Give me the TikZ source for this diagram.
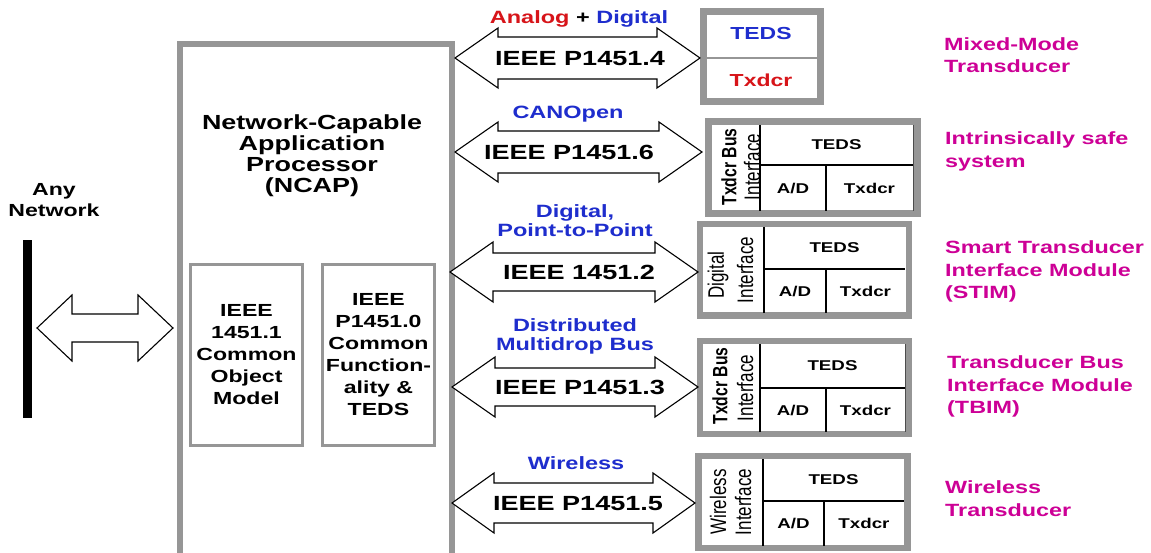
\documentclass[tikz,border=0pt]{standalone}
\usepackage{graphicx}
\usepackage{fontspec}
\setmainfont{Liberation Sans}
\newfontfamily\wf{Liberation Sans}[FakeStretch=1.32]
\usetikzlibrary{calc}
\definecolor{frm}{RGB}{150,150,150}
\definecolor{lblue}{RGB}{30,45,205}
\definecolor{lred}{RGB}{215,20,25}
\definecolor{lmag}{RGB}{205,0,150}
\newcommand\fsz[2]{\fontsize{#1}{#2}\selectfont}
% double block arrow between two named tip coordinates
\newcommand\dblarrow[5]{%
  \draw[arrowshape] let \p1=(#1), \p2=(#2) in
    (\p1) -- (\x1+#3pt,\y1+#4pt) -- (\x1+#3pt,\y1+#5pt) -- (\x2-#3pt,\y2+#5pt)
    -- (\x2-#3pt,\y2+#4pt) -- (\p2) -- (\x2-#3pt,\y2-#4pt) -- (\x2-#3pt,\y2-#5pt)
    -- (\x1+#3pt,\y1-#5pt) -- (\x1+#3pt,\y1-#4pt) -- cycle;}
\begin{document}
\begin{tikzpicture}[x=1pt,y=-1pt,
  grayframe/.style={draw=frm, inner sep=0pt, fill=white},
  divline/.style={draw=black, line width=1.2},
  arrowshape/.style={draw=black, fill=white, line width=1.1, line join=miter},
  bigtxt/.style={font=\wf\bfseries\fsz{20.4}{21}, inner sep=0pt, align=center},
  midtxt/.style={font=\wf\bfseries\fsz{17.5}{22}, inner sep=0pt, align=center},
  lbltxt/.style={font=\wf\bfseries\fsz{17.8}{19}, inner sep=0pt, align=center, text=lblue},
  magtxt/.style={font=\wf\bfseries\fsz{17.7}{22.5}, inner sep=0pt, align=left, text=lmag, anchor=north west},
  ieeetxt/.style={font=\wf\bfseries\fsz{20.5}{24}, inner sep=0pt, anchor=base},
  celltxt/.style={font=\wf\bfseries\fsz{14.2}{17}, inner sep=0pt},
  rtxt/.style={rotate=90, inner sep=0pt},
]
\useasboundingbox (0,0) rectangle (1151,553);
\fill[white] (0,0) rectangle (1151,553);
\clip (0,0) rectangle (1151,553);

% ---- network side
\node[fill=black, inner sep=0pt, minimum width=9, minimum height=178] (net) at (27.5,329) {};
\node[midtxt, anchor=north, font=\wf\bfseries\fsz{17.5}{21}] (netlbl) at (54,183.7) {Any\\Network};

% ---- NCAP
\node[grayframe, line width=6.5, minimum width=272, minimum height=520] (ncap) at (316,304) {};
\node[bigtxt, anchor=north] (ncaplbl) at (312,114.7) {Network-Capable\\Application\\Processor\\(NCAP)};
\node[grayframe, line width=3, minimum width=112, minimum height=181, midtxt] (com) at (246.5,355)
  {IEEE\\1451.1\\Common\\Object\\Model};
\node[grayframe, line width=3, minimum width=112, minimum height=181, midtxt] (cf) at (378.5,355)
  {IEEE\\P1451.0\\Common\\Function-\\ality \&\\TEDS};

% ---- left arrow
\coordinate (nl) at (37,328);
\coordinate (nr) at (173,328);
\dblarrow{nl}{nr}{35}{33}{14}

% ---- transducer frames
\node[grayframe, line width=7, minimum width=117, minimum height=90] (tA) at (761.5,56.5) {};
\node[grayframe, line width=7, minimum width=209, minimum height=91.5] (tB) at (813,167.75) {};
\node[grayframe, line width=6, minimum width=208.5, minimum height=91] (tC) at (804.25,270) {};
\node[grayframe, line width=6, minimum width=209, minimum height=93] (tD) at (804.5,387.5) {};
\node[grayframe, line width=6.5, minimum width=209, minimum height=92] (tE) at (803,502) {};

% box A
\draw[draw=frm, line width=1.5] (707,58) -- (817,58);
\node[font=\wf\bfseries\fsz{17.4}{20}, inner sep=0pt, text=lblue] (tAt) at (761,34) {TEDS};
\node[font=\wf\bfseries\fsz{17.4}{20}, inner sep=0pt, text=lred] (tAx) at (761,80) {Txdcr};

% box B
\draw[divline] (760,125) -- (760,211) (760,165) -- (914,165) (826,165) -- (826,211);
\draw[black!70, line width=1] (913.5,125) -- (913.5,211);
\node[celltxt] (tBt) at (836.5,145) {TEDS};
\node[celltxt] (tBa) at (793,188) {A/D};
\node[celltxt] (tBx) at (869.5,188) {Txdcr};
\node[rtxt] (tBr1) at (729,167) {\scalebox{1}[1.32]{\fsz{15.7}{18}\bfseries Txdcr Bus}};
\node[rtxt] (tBr2) at (752,167) {\scalebox{1}[1.32]{\fsz{17}{20}Interface}};

% box C
\draw[divline] (764,227) -- (764,313) (764,269) -- (905,269) (826,269) -- (826,313);
\node[celltxt] (tCt) at (834.5,248) {TEDS};
\node[celltxt] (tCa) at (795,291) {A/D};
\node[celltxt] (tCx) at (865.5,291) {Txdcr};
\node[rtxt] (tCr1) at (718,275) {\scalebox{1}[1.32]{\fsz{17}{20}Digital}};
\node[rtxt] (tCr2) at (745,270) {\scalebox{1}[1.32]{\fsz{17}{20}Interface}};

% box D
\draw[divline] (760,344) -- (760,432) (760,388) -- (905,388) (826,388) -- (826,432);
\draw[black!70, line width=1] (905,344) -- (905,432);
\node[celltxt] (tDt) at (832.5,366) {TEDS};
\node[celltxt] (tDa) at (793,410) {A/D};
\node[celltxt] (tDx) at (865.5,410) {Txdcr};
\node[rtxt] (tDr1) at (720,386) {\scalebox{1}[1.32]{\fsz{15.7}{18}\bfseries Txdcr Bus}};
\node[rtxt] (tDr2) at (745,388) {\scalebox{1}[1.32]{\fsz{17}{20}Interface}};

% box E
\draw[divline] (763,459) -- (763,546) (763,501) -- (904,501) (824,501) -- (824,546);
\node[celltxt] (tEt) at (833.5,480) {TEDS};
\node[celltxt] (tEa) at (793.5,523.5) {A/D};
\node[celltxt] (tEx) at (864,523.5) {Txdcr};
\node[rtxt] (tEr1) at (718,502) {\scalebox{1}[1.32]{\fsz{17}{20}Wireless}};
\node[rtxt] (tEr2) at (743,502) {\scalebox{1}[1.32]{\fsz{17}{20}Interface}};

% ---- right arrows
\coordinate (a1l) at (455,58);  \coordinate (a1r) at (700,58);
\coordinate (a2l) at (455,152); \coordinate (a2r) at (702,152);
\coordinate (a3l) at (450,272); \coordinate (a3r) at (698,272);
\coordinate (a4l) at (452,387); \coordinate (a4r) at (698,387);
\coordinate (a5l) at (452,503); \coordinate (a5r) at (695,503);
\dblarrow{a1l}{a1r}{43}{30}{21}
\dblarrow{a2l}{a2r}{43}{30}{21}
\dblarrow{a3l}{a3r}{43}{30}{19}
\dblarrow{a4l}{a4r}{43}{30}{19}
\dblarrow{a5l}{a5r}{42}{30}{20}

\node[ieeetxt] (i4) at (580,65.3) {IEEE P1451.4};
\node[ieeetxt] (i6) at (569,159.3) {IEEE P1451.6};
\node[ieeetxt] (i2) at (579,279.3) {IEEE 1451.2};
\node[ieeetxt] (i3) at (580,394.3) {IEEE P1451.3};
\node[ieeetxt] (i5) at (578,510.3) {IEEE P1451.5};

% ---- labels above arrows
\node[lbltxt, anchor=base] (l4) at (579,23.5) {\textcolor{lred}{Analog} \textcolor{black}{+} Digital};
\node[lbltxt, anchor=base] (l6) at (568,118.5) {CANOpen};
\node[lbltxt, anchor=north] (l2) at (575,204.6) {Digital,\\Point-to-Point};
\node[lbltxt, anchor=north] (l3) at (575,318.6) {Distributed\\Multidrop Bus};
\node[lbltxt, anchor=base] (l5) at (576,469.5) {Wireless};

% ---- right-hand descriptions
\node[magtxt] (m1) at (944,37) {Mixed-Mode\\Transducer};
\node[magtxt] (m2) at (945,131.5) {Intrinsically safe\\system};
\node[magtxt] (m3) at (945,240.5) {Smart Transducer\\Interface Module\\(STIM)};
\node[magtxt] (m4) at (947,355.5) {Transducer Bus\\Interface Module\\(TBIM)};
\node[magtxt] (m5) at (945,480.5) {Wireless\\Transducer};
\end{tikzpicture}
\end{document}
